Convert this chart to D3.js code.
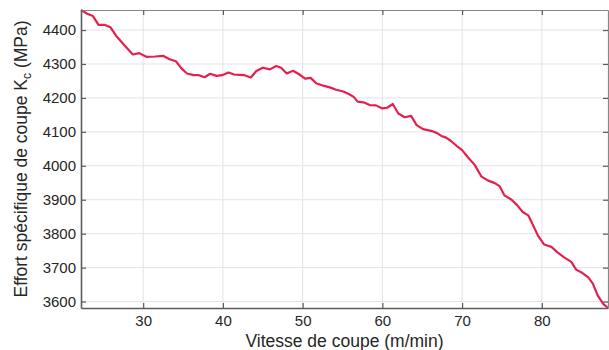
<!DOCTYPE html>
<html>
<head>
<meta charset="utf-8">
<script src="https://cdn.jsdelivr.net/npm/d3@7"></script>
<style>
  body { margin: 0; background: #fff; }
  svg { display: block; font-family: "Liberation Sans", Arial, sans-serif; }
</style>
</head>
<body>
<svg id="chart" width="609" height="350"></svg>
<script>
// Data
const vitesse = [22.2, 22.9, 23.7, 24.4, 25.2, 25.9, 26.7, 27.7, 28.7, 29.5, 30.4, 31.5, 32.5, 33.3, 34.1, 34.8, 35.5, 36.3, 37.0, 37.7, 38.4, 39.2, 39.9, 40.7, 41.4, 42.0, 42.7, 43.5, 44.2, 45.0, 45.9, 46.7, 47.3, 48.0, 48.8, 49.6, 50.3, 51.0, 51.7, 52.6, 53.4, 54.2, 55.1, 55.9, 56.4, 56.9, 57.8, 58.4, 59.2, 60.0, 60.6, 61.3, 62.0, 62.8, 63.6, 64.3, 65.1, 66.1, 66.8, 67.4, 68.0, 68.6, 69.3, 70.0, 70.7, 71.6, 72.4, 73.2, 74.1, 74.7, 75.3, 76.2, 76.9, 77.6, 78.3, 78.9, 79.5, 80.3, 81.2, 82.0, 82.8, 83.7, 84.3, 85.1, 85.8, 86.4, 87.0, 87.7, 88.3];
const effort = [4459, 4449, 4441, 4415, 4415, 4408, 4380, 4354, 4328, 4332, 4321, 4322, 4324, 4314, 4308, 4287, 4272, 4267, 4267, 4261, 4271, 4265, 4267, 4275, 4269, 4268, 4267, 4260, 4279, 4289, 4284, 4294, 4289, 4272, 4280, 4269, 4257, 4259, 4243, 4236, 4231, 4224, 4219, 4210, 4203, 4189, 4186, 4179, 4178, 4169, 4171, 4182, 4154, 4143, 4147, 4120, 4108, 4103, 4097, 4088, 4083, 4073, 4059, 4046, 4026, 4002, 3969, 3957, 3949, 3940, 3913, 3900, 3884, 3864, 3854, 3825, 3795, 3768, 3761, 3744, 3730, 3717, 3694, 3684, 3672, 3653, 3618, 3593, 3581];
const xTicks = [30, 40, 50, 60, 70, 80];
const yTicks = [3600, 3700, 3800, 3900, 4000, 4100, 4200, 4300, 4400];
const xLabel = "Vitesse de coupe (m/min)";
const yLabelMain = "Effort spécifique de coupe K";
const yLabelSub = "c";
const yLabelUnit = "(MPa)";

const data = vitesse.map((v, i) => ({ x: v, y: effort[i] }));

const W = 609, H = 350;
const m = { left: 81, top: 10, right: 1, bottom: 42 };
const iw = W - m.left - m.right, ih = H - m.top - m.bottom;

const svg = d3.select("#chart");
const g = svg.append("g").attr("transform", `translate(${m.left},${m.top})`);

const x = d3.scaleLinear().domain(d3.extent(vitesse)).range([0, iw]);
const y = d3.scaleLinear().domain(d3.extent(effort)).range([ih, 0]);

// Grid
g.append("g").selectAll("line").data(xTicks).join("line")
  .attr("x1", d => x(d)).attr("x2", d => x(d)).attr("y1", 0).attr("y2", ih)
  .attr("stroke", "#e3e3e3").attr("stroke-width", 1);
g.append("g").selectAll("line").data(yTicks).join("line")
  .attr("y1", d => y(d)).attr("y2", d => y(d)).attr("x1", 0).attr("x2", iw)
  .attr("stroke", "#e3e3e3").attr("stroke-width", 1);

// Line
g.append("path").datum(data)
  .attr("fill", "none").attr("stroke", "#e5204f").attr("stroke-width", 2.2)
  .attr("stroke-linejoin", "round")
  .attr("d", d3.line().x(d => x(d.x)).y(d => y(d.y)));

const axisColor = "#5c5c5c";
const labelColor = "#262626";

// Bottom axis (ticks inward)
const xAxis = g.append("g").attr("transform", `translate(0,${ih})`)
  .call(d3.axisBottom(x).tickValues(xTicks).tickSizeInner(-5).tickSizeOuter(0).tickPadding(7).tickFormat(d3.format("d")));
// Top axis (ticks inward, no labels)
const xTop = g.append("g")
  .call(d3.axisTop(x).tickValues(xTicks).tickSizeInner(-5).tickSizeOuter(0).tickFormat(""));
// Left axis
const yAxis = g.append("g")
  .call(d3.axisLeft(y).tickValues(yTicks).tickSizeInner(-5).tickSizeOuter(0).tickPadding(5).tickFormat(d3.format("d")));
// Right axis
const yRight = g.append("g").attr("transform", `translate(${iw},0)`)
  .call(d3.axisRight(y).tickValues(yTicks).tickSizeInner(-5).tickSizeOuter(0).tickFormat(""));

[xAxis, xTop, yAxis, yRight].forEach(a => {
  a.select(".domain").attr("stroke", axisColor).attr("stroke-width", 1.6);
  a.selectAll(".tick line").attr("stroke", axisColor).attr("stroke-width", 1.2);
  a.selectAll(".tick text").attr("fill", labelColor).attr("font-size", 15)
    .attr("font-family", "Liberation Sans, Arial, sans-serif");
});
xTop.select(".domain").attr("stroke", "#888").attr("stroke-width", 1.2);
yRight.select(".domain").attr("stroke", "#888").attr("stroke-width", 1.2);

// Axis labels
svg.append("text")
  .attr("x", m.left + iw / 2).attr("y", 347)
  .attr("text-anchor", "middle").attr("font-size", 17.5).attr("fill", labelColor)
  .text(xLabel);

const yl = svg.append("text")
  .attr("transform", `translate(27,${m.top + ih / 2}) rotate(-90)`)
  .attr("text-anchor", "middle").attr("font-size", 17.5).attr("fill", labelColor);
yl.append("tspan").text(yLabelMain);
yl.append("tspan").attr("font-size", 12).attr("dy", 4).text(yLabelSub);
yl.append("tspan").attr("dy", -4).text(" " + yLabelUnit);
</script>
</body>
</html>
